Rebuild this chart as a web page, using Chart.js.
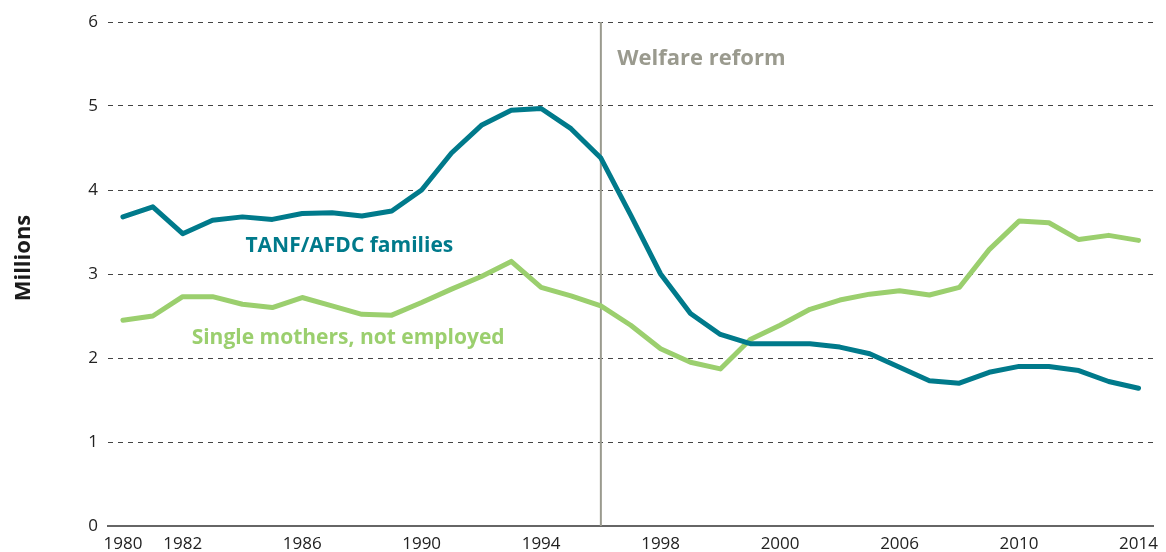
<!DOCTYPE html>
<html>
<head>
<meta charset="utf-8">
<script src="https://cdn.jsdelivr.net/npm/chart.js@4/dist/chart.umd.min.js"></script>
<style>
  html, body { margin: 0; padding: 0; background: #fff; }
  #wrap { width: 1166px; height: 552px; }
</style>
</head>
<body>
<div id="wrap"><canvas id="chart" width="1166" height="552"></canvas></div>
<script>
const years = ['1980','1981','1982','1983','1984','1985','1986','1987','1988','1989',
  '1990','1991','1992','1993','1994','1995','1996','1997','1998','1999',
  '2000','2001','2002','2003','2004','2005','2006','2007','2008','2009',
  '2010','2011','2012','2013','2014'];

// labels as printed under the axis (the source skips years unevenly)
const tickLabels = ['1980','','1982','','','','1986','','','',
  '1990','','','','1994','','','','1998','',
  '','','2000','','','','2006','','','',
  '2010','','','','2014'];

const tanfFamilies = [3.68, 3.80, 3.48, 3.64, 3.68, 3.65, 3.72, 3.73, 3.69, 3.75,
  4.00, 4.44, 4.77, 4.95, 4.97, 4.73, 4.38, 3.70, 3.00, 2.53,
  2.28, 2.17, 2.17, 2.17, 2.13, 2.05, 1.89, 1.73, 1.70, 1.83,
  1.90, 1.90, 1.85, 1.72, 1.64];

const singleMothersNotEmployed = [2.45, 2.50, 2.73, 2.73, 2.64, 2.60, 2.72, 2.62, 2.52, 2.51,
  2.66, 2.82, 2.97, 3.15, 2.84, 2.74, 2.62, 2.39, 2.11, 1.95,
  1.87, 2.22, 2.39, 2.58, 2.69, 2.76, 2.80, 2.75, 2.84, 3.29,
  3.63, 3.61, 3.41, 3.46, 3.40];

const yTicks = [0, 1, 2, 3, 4, 5, 6];
const reformYear = '1996';

const TEAL = '#007a8b';
const GREEN = '#9bcf6e';
const GREY = '#9a9a8e';
const FONT = "'Open Sans', 'DejaVu Sans', sans-serif";

const annotations = {
  id: 'annotations',
  beforeDatasetsDraw(chart) {
    const { ctx, chartArea, scales } = chart;
    const x = scales.x.getPixelForValue(years.indexOf(reformYear));
    ctx.save();
    ctx.strokeStyle = GREY;
    ctx.lineWidth = 2;
    ctx.beginPath();
    ctx.moveTo(x, chartArea.top);
    ctx.lineTo(x, chartArea.bottom);
    ctx.stroke();
    ctx.restore();
  },
  afterDatasetsDraw(chart) {
    const { ctx, scales } = chart;
    const xs = scales.x, ys = scales.y;
    ctx.save();
    ctx.textBaseline = 'middle';
    ctx.textAlign = 'left';

    ctx.font = "bold 22px " + FONT;
    ctx.fillStyle = GREY;
    ctx.fillText('Welfare reform', xs.getPixelForValue(16.55), ys.getPixelForValue(5.56));

    ctx.font = "bold 21px " + FONT;
    ctx.fillStyle = TEAL;
    ctx.fillText('TANF/AFDC families', xs.getPixelForValue(4.1), ys.getPixelForValue(3.33));

    ctx.fillStyle = GREEN;
    ctx.fillText('Single mothers, not employed', xs.getPixelForValue(2.3), ys.getPixelForValue(2.24));

    ctx.translate(24, 258);
    ctx.rotate(-Math.PI / 2);
    ctx.textAlign = 'center';
    ctx.font = "bold 22px " + FONT;
    ctx.fillStyle = '#1a1a1a';
    ctx.fillText('Millions', 0, 0);
    ctx.restore();
  }
};

new Chart(document.getElementById('chart'), {
  type: 'line',
  data: {
    labels: years,
    datasets: [
      {
        label: 'TANF/AFDC families',
        data: tanfFamilies,
        borderColor: TEAL,
        borderWidth: 5,
        pointRadius: 0,
        tension: 0,
        borderJoinStyle: 'round',
        borderCapStyle: 'round'
      },
      {
        label: 'Single mothers, not employed',
        data: singleMothersNotEmployed,
        borderColor: GREEN,
        borderWidth: 5,
        pointRadius: 0,
        tension: 0,
        borderJoinStyle: 'round',
        borderCapStyle: 'round'
      }
    ]
  },
  options: {
    responsive: false,
    animation: false,
    layout: { padding: { top: 22, right: 2, left: 0, bottom: 0 } },
    plugins: {
      legend: { display: false },
      tooltip: { enabled: false }
    },
    scales: {
      x: {
        offset: true,
        grid: { display: false, drawTicks: false },
        border: { display: true, color: '#666', width: 2 },
        ticks: {
          autoSkip: false,
          maxRotation: 0,
          padding: 8,
          color: '#222',
          font: { family: FONT, size: 17 },
          callback: (v, i) => tickLabels[i]
        },
        afterFit: (scale) => { scale.height = 26; }
      },
      y: {
        min: 0,
        max: 6,
        afterBuildTicks: (scale) => { scale.ticks = yTicks.map(v => ({ value: v })); },
        grid: {
          color: (c) => c.tick.value === 0 ? 'rgba(0,0,0,0)' : '#444',
          lineWidth: 1,
          drawTicks: false
        },
        border: { display: false, dash: [5, 5] },
        ticks: {
          padding: 10,
          color: '#222',
          font: { family: FONT, size: 17 }
        },
        afterFit: (scale) => { scale.width = 108; }
      }
    }
  },
  plugins: [annotations]
});
</script>
</body>
</html>
